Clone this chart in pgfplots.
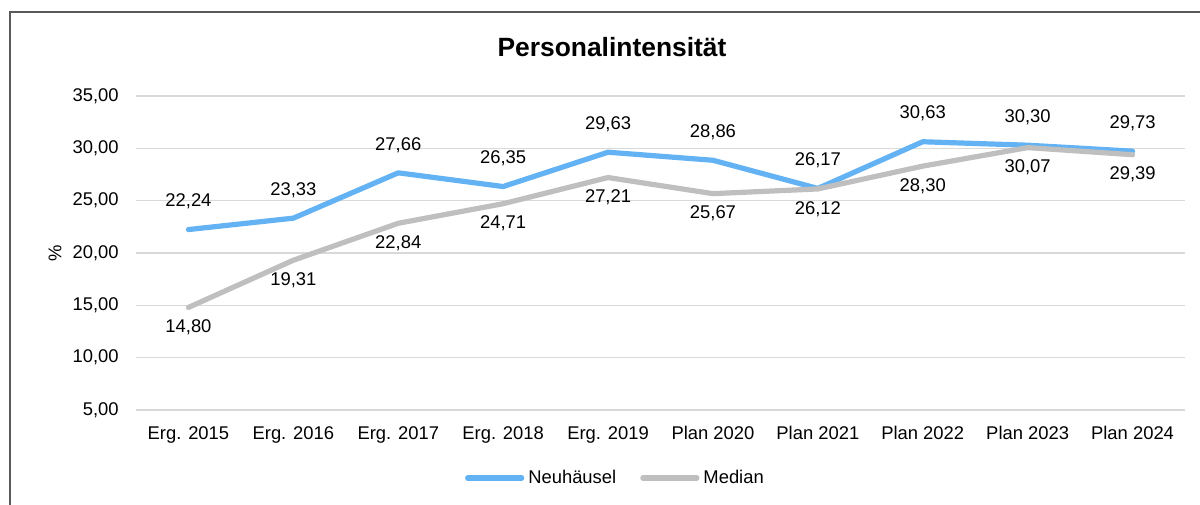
\documentclass[border=0pt]{standalone}
\usepackage{pgfplots}
\pgfplotsset{compat=1.18}
\usepackage{fontspec}
\setmainfont{Liberation Sans}
\definecolor{cblue}{HTML}{62B2F4}
\definecolor{cgray}{HTML}{BFBFBF}
\definecolor{cgrid}{HTML}{D9D9D9}
\definecolor{cframe}{HTML}{595959}
\begin{document}
\begin{tikzpicture}
\path[use as bounding box] (0pt,0pt) rectangle (600pt,-252pt);
\draw[cframe, line width=0.6pt] (5pt,-260pt) -- (5pt,-6pt) -- (610pt,-6pt);
\node[font=\bfseries\fontsize{13.2}{15}\selectfont] at (306pt,-23.5pt) {Personalintensität};
\node[rotate=90, font=\fontsize{9.2}{11}\selectfont] at (27.5pt,-126.5pt) {\%};
\begin{axis}[
  at={(68pt,-205pt)}, anchor=south west,
  scale only axis, width=524.5pt, height=157pt,
  xmin=-0.5, xmax=9.5, ymin=5, ymax=35,
  ytick={5,10,...,35},
  xtick={0,...,9},
  xticklabels={Erg. 2015,Erg. 2016,Erg. 2017,Erg. 2018,Erg. 2019,Plan 2020,Plan 2021,Plan 2022,Plan 2023,Plan 2024},
  axis line style={draw=none},
  major tick style={draw=none},
  ymajorgrids, grid style={cgrid, line width=0.8pt},
  /pgf/number format/.cd, fixed, fixed zerofill, precision=2, use comma, assume math mode=true,
  /pgfplots/.cd,
  ticklabel style={font=\fontsize{9.2}{11}\selectfont, inner sep=0pt},
  yticklabel style={anchor=east, xshift=-8.5pt},
  xticklabel style={anchor=north, yshift=-8pt},
  legend columns=2,
  legend style={draw=none, at={(0.458,-0.2166)}, anchor=center, font=\fontsize{9.2}{11}\selectfont,
    /tikz/every even column/.append style={column sep=10pt}, inner sep=0pt},
  legend image code/.code={\draw[#1, line cap=round] (0pt,0pt) -- (27pt,0pt);},
  nodes near coords={\pgfmathprintnumber[fixed,fixed zerofill,precision=2,use comma,assume math mode=true]{\pgfplotspointmeta}},
  every node near coord/.append style={font=\fontsize{9.2}{11}\selectfont, text=black, anchor=center},
]
\addplot[cblue, line width=2.6pt, line cap=round, line join=round, mark=none,
  every node near coord/.append style={yshift=14pt}]
  coordinates {(0,22.24) (1,23.33) (2,27.66) (3,26.35) (4,29.63) (5,28.86) (6,26.17) (7,30.63) (8,30.30) (9,29.73)};
\addlegendentry{Neuhäusel}
\addplot[cgray, line width=2.6pt, line cap=round, line join=round, mark=none,
  every node near coord/.append style={yshift=-10pt}]
  coordinates {(0,14.80) (1,19.31) (2,22.84) (3,24.71) (4,27.21) (5,25.67) (6,26.12) (7,28.30) (8,30.07) (9,29.39)};
\addlegendentry{Median}
\end{axis}
\end{tikzpicture}
\end{document}
